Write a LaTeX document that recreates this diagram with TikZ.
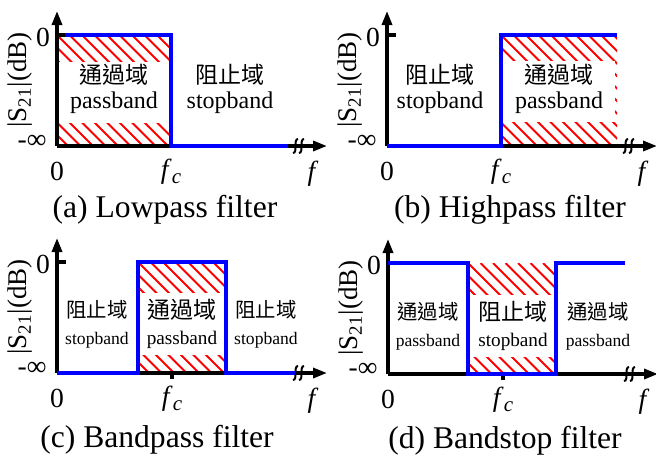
\documentclass[tikz,border=0pt]{standalone}
\usepackage{fontspec}
\setmainfont{Liberation Serif}
\newfontfamily\cjk{Noto Sans CJK TC}
\usetikzlibrary{arrows.meta}

% axes of one panel, #1 = position of f_c
\newcommand{\axes}[1]{%
  \coordinate (o) at (0,0);
  \coordinate (ytop) at (0,-135);
  \coordinate (xend) at (270,0);
  \coordinate (top) at (0,-111);
  \coordinate (toptk) at (9,-111);
  \draw[axis,-{Triangle[length=7pt,width=5pt]}] (o) -- (ytop);
  \draw[axis,-{Triangle[length=7pt,width=5pt]}] (o) -- (xend);
  \draw[axis] (top) -- (toptk);
  \draw[brk] (236,7) .. controls (241,7) and (236,-7) .. (241,-7);
  \draw[brk] (242,7) .. controls (247,7) and (242,-7) .. (247,-7);
  \node[lbl] (x0) at (0,25) {0};
  \node[lbl] (y0) at (-14,-109) {0};
  \node[lbl] (yinf) at (-25,-4) {-∞};
  \node[lbl] (fc) at (#1,26) {\textit{f}\raisebox{-0.35ex}{\fontsize{10.5}{11}\selectfont\textit{c}}};
  \node[lbl] (f) at (256,28) {\textit{f}};
  \node[ylbl,rotate=90] (ylab) at (-37,-66) {|S\textsubscript{21}|(dB)};
}
% red hatched band between (#1,#2) and (#3,#4)
\newcommand{\hatchbox}[4]{%
  \begin{scope}
    \clip (#1,#2) rectangle (#3,#4);
    \foreach \k in {-125,-112.5,...,130}
      \draw[hatch] ({#1+\k},#2) -- ++(130,130);
  \end{scope}}

\begin{document}
\begin{tikzpicture}[x=0.5pt,y=-0.5pt]
  \tikzstyle{axis}=[line width=1.6pt,black]
  \tikzstyle{resp}=[line width=1.7pt,blue,line join=miter]
  \tikzstyle{brk}=[line width=1pt,black]
  \tikzstyle{hatch}=[red,line width=0.9pt]
  \tikzstyle{lbl}=[font=\fontsize{13.8}{14}\selectfont,inner sep=0]
  \tikzstyle{ylbl}=[font=\fontsize{13.5}{14}\selectfont,inner sep=0]
  \tikzstyle{capt}=[font=\fontsize{15.8}{16}\selectfont,inner sep=0]
  \tikzstyle{zh}=[font=\fontsize{11.5}{12}\selectfont\cjk,inner sep=0]
  \tikzstyle{en}=[font=\fontsize{12}{12}\selectfont,inner sep=0]
  \tikzstyle{zhs}=[font=\fontsize{10.2}{11}\selectfont\cjk,inner sep=0]
  \tikzstyle{ens}=[font=\fontsize{8.8}{9}\selectfont,inner sep=0]
  \useasboundingbox (0,0) rectangle (656,455);

  % (a) lowpass
  \begin{scope}[shift={(57,146)},name prefix=a-]
    \hatchbox{0}{-111}{114}{0}
    \fill[white] (2,-84) rectangle (112,-23);
    \axes{114}
    \draw[resp] (8,-111) -- (114,-111) -- (114,0) -- (231,0);
    \node[zh] (pzh) at (57,-71) {通過域};
    \node[en] (pen) at (57,-43) {passband};
    \node[zh] (szh) at (173,-71) {阻止域};
    \node[en] (sen) at (173,-43) {stopband};
    \node[capt] (capt) at (108,64) {(a) Lowpass filter};
  \end{scope}

  % (b) highpass
  \begin{scope}[shift={(387,146)},name prefix=b-]
    \hatchbox{114}{-111}{230}{0}
    \fill[white] (116,-85) rectangle (228,-24);
    \axes{114}
    \draw[resp] (0,0) -- (114,0) -- (114,-111) -- (230,-111);
    \node[zh] (szh) at (53,-71) {阻止域};
    \node[en] (sen) at (53,-43) {stopband};
    \node[zh] (pzh) at (172,-71) {通過域};
    \node[en] (pen) at (172,-43) {passband};
    \node[capt] (capt) at (123,64) {(b) Highpass filter};
  \end{scope}

  % (c) bandpass
  \begin{scope}[shift={(57,373)},name prefix=c-]
    \hatchbox{81}{-111}{169}{0}
    \fill[white] (83,-80) rectangle (167,-18);
    \axes{115}
    \draw[axis] (115,0) -- (115,6);
    \draw[resp] (0,0) -- (81,0) -- (81,-111) -- (169,-111) -- (169,0) -- (238,0);
    \node[zhs] (szh1) at (40,-63) {阻止域};
    \node[ens] (sen1) at (40,-33) {stopband};
    \node[zh] (pzh) at (125,-63) {通過域};
    \node[ens,font=\fontsize{9.6}{10}\selectfont] (pen) at (125,-33) {passband};
    \node[zhs] (szh2) at (209,-63) {阻止域};
    \node[ens] (sen2) at (209,-33) {stopband};
    \node[capt] (capt) at (100,67) {(c) Bandpass filter};
  \end{scope}

  % (d) bandstop
  \begin{scope}[shift={(388,374)},name prefix=d-]
    \hatchbox{80}{-111}{168}{0}
    \fill[white] (82,-79) rectangle (166,-17);
    \axes{115}
    \draw[axis] (115,0) -- (115,6);
    \draw[resp] (0,-111) -- (80,-111) -- (80,0) -- (168,0) -- (168,-111) -- (237,-111);
    \node[zhs] (pzh1) at (40,-62) {通過域};
    \node[ens] (pen1) at (40,-32) {passband};
    \node[zh] (szh) at (125,-62) {阻止域};
    \node[ens,font=\fontsize{9.6}{10}\selectfont] (sen) at (125,-32) {stopband};
    \node[zhs] (pzh2) at (210,-62) {通過域};
    \node[ens] (pen2) at (210,-32) {passband};
    \node[capt] (capt) at (117,67) {(d) Bandstop filter};
  \end{scope}
\end{tikzpicture}
\end{document}
